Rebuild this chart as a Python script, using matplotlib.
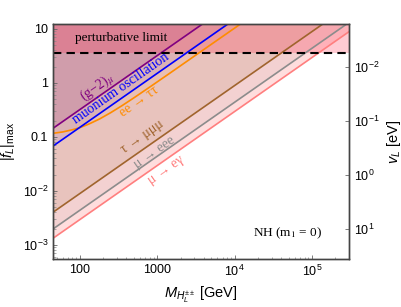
import numpy as np
import matplotlib
matplotlib.use("Agg")
import matplotlib.pyplot as plt
from matplotlib.ticker import FixedLocator, FixedFormatter, LogLocator, NullFormatter, NullLocator

plt.rcParams["font.family"] = ["Liberation Sans", "DejaVu Sans"]
plt.rcParams["mathtext.fontset"] = "custom"
plt.rcParams["mathtext.rm"] = "Liberation Sans"
plt.rcParams["mathtext.it"] = "Liberation Sans:italic"

# mass range [GeV]
m_range = [45, 3e5]

# upper bounds on |f_L| (straight lines on log-log, read at both ends)
mueg_f = [1.33e-3, 8.9]        # mu -> e gamma
mueee_f = [1.98e-3, 13.2]      # mu -> eee
taummm_f = [4.04e-3, 26.9]     # tau -> mu mu mu
muonium_f = [0.068, 454]       # muonium oscillation
gm2_f = [0.145, 966]           # (g-2)_mu

# ee -> tautau (LEP), curved
eett_m = [45, 60, 80, 100, 130, 180, 250, 350, 500, 800, 1500, 3000, 1e4, 3e5]
eett_f = [0.117, 0.124, 0.136, 0.149, 0.173, 0.216, 0.282, 0.380, 0.532,
          0.841, 1.567, 3.13, 10.4, 313]

pert_limit = 3.55  # sqrt(4 pi)

# v_L = K / |f_L|
K_vl = 0.0195

xticks = [100, 1000, 1e4, 1e5]
xticklabels = ["100", "1000", "$10^4$", "$10^5$"]
yticks = [1e-3, 1e-2, 0.1, 1, 10]
yticklabels = ["$10^{-3}$", "$10^{-2}$", "0.1", "1", "10"]
vticks = [1e-2, 1e-1, 1, 10]
vticklabels = ["$10^{-2}$", "$10^{-1}$", "$10^0$", "$10^1$"]

fig = plt.figure(figsize=(4.02, 3.07), dpi=100)
ax = fig.add_axes([0.132, 0.155, 0.736, 0.767])
ax.set_xscale("log")
ax.set_yscale("log")
ylo, yhi = 5.4e-4, 12.4
ax.set_xlim(45, 3e5)
ax.set_ylim(ylo, yhi)
ytop = 1e4

lines = [
    (m_range, mueg_f, "#ff7f7f", "#ff9090", 0.30),
    (m_range, mueee_f, "#8c8c8c", "#8a7070", 0.10),
    (m_range, taummm_f, "#a0642d", "#a0642d", 0.12),
    (eett_m, eett_f, "#ff8c00", "#ff8000", 0.05),
    (m_range, muonium_f, "#0000ff", "#6040d0", 0.10),
    (m_range, gm2_f, "#800080", "#902070", 0.14),
]
for mm, ff, lc, fc, a in lines:
    ax.fill_between(mm, ff, ytop, color=fc, alpha=a, lw=0)
    ax.plot(mm, ff, color=lc, lw=1.2)

ax.fill_between(m_range, pert_limit, ytop, color="#ff3050", alpha=0.25, lw=0)
ax.axhline(pert_limit, color="black", lw=1.5, ls=(0, (4, 2.5)))

# rotation of slope-1 lines on screen
p1 = ax.transData.transform((100, 0.1))
p2 = ax.transData.transform((1000, 1))
ang = np.degrees(np.arctan2(p2[1] - p1[1], p2[0] - p1[0]))

serif = ["Liberation Serif", "DejaVu Serif"]
lab = dict(family=serif, math_fontfamily="stix", fontsize=10,
           ha="center", va="center", rotation=ang, rotation_mode="anchor")
ax.text(165, 0.84, "(g\u22122)$_\\mu$", color="#800080", **lab)
ax.text(340, 0.81, "muonium oscillation", color="#0000ff", **lab)
ax.text(575, 0.46, "ee \u2192 \u03c4\u03c4", color="#ff8c00", **lab)
ax.text(650, 0.10, "\u03c4 \u2192 \u03bc\u03bc\u03bc", color="#a0642d", **lab)
ax.text(920, 0.053, "\u03bc \u2192 eee", color="#8c8c8c", **lab)
ax.text(1290, 0.0245, "\u03bc \u2192 e\u03b3", color="#ff7f7f", **lab)

ax.text(340, 6.8, "perturbative limit", family=serif, fontsize=9.5,
        ha="center", va="center")
ax.text(4.8e4, 1.67e-3, "NH (m$_1$ = 0)", family=serif, math_fontfamily="stix",
        fontsize=9.5, ha="center", va="center")

ax.xaxis.set_major_locator(FixedLocator(xticks))
ax.xaxis.set_major_formatter(FixedFormatter(xticklabels))
ax.yaxis.set_major_locator(FixedLocator(yticks))
ax.yaxis.set_major_formatter(FixedFormatter(yticklabels))
ax.xaxis.set_minor_locator(LogLocator(subs=np.arange(2, 10)))
ax.xaxis.set_minor_formatter(NullFormatter())
ax.yaxis.set_minor_locator(LogLocator(subs=np.arange(2, 10)))
ax.yaxis.set_minor_formatter(NullFormatter())
ax.yaxis.set_ticks_position("left")

sec = ax.twinx()
sec.set_yscale("log")
sec.set_ylim(K_vl / ylo, K_vl / yhi)
sec.yaxis.set_major_locator(FixedLocator(vticks))
sec.yaxis.set_major_formatter(FixedFormatter(vticklabels))
sec.yaxis.set_minor_locator(NullLocator())
sec.set_ylabel("$v_L$ [eV]", fontsize=10.5)

for a_ in (ax, sec):
    a_.tick_params(which="major", direction="in", length=3, width=0.6,
                   color="#666666", labelsize=9)
    a_.tick_params(which="minor", direction="in", length=1.8, width=0.5,
                   color="#888888")
    for s in a_.spines.values():
        s.set_color("#444444")
        s.set_linewidth(1.0)

ax.set_xlabel(r"$M_{H_L^{\pm\pm}}$ [GeV]", fontsize=10.5)
ax.set_ylabel(r"$|f_L|_{\mathrm{max}}$", fontsize=10.5)

fig.savefig("out.png", dpi=100)
